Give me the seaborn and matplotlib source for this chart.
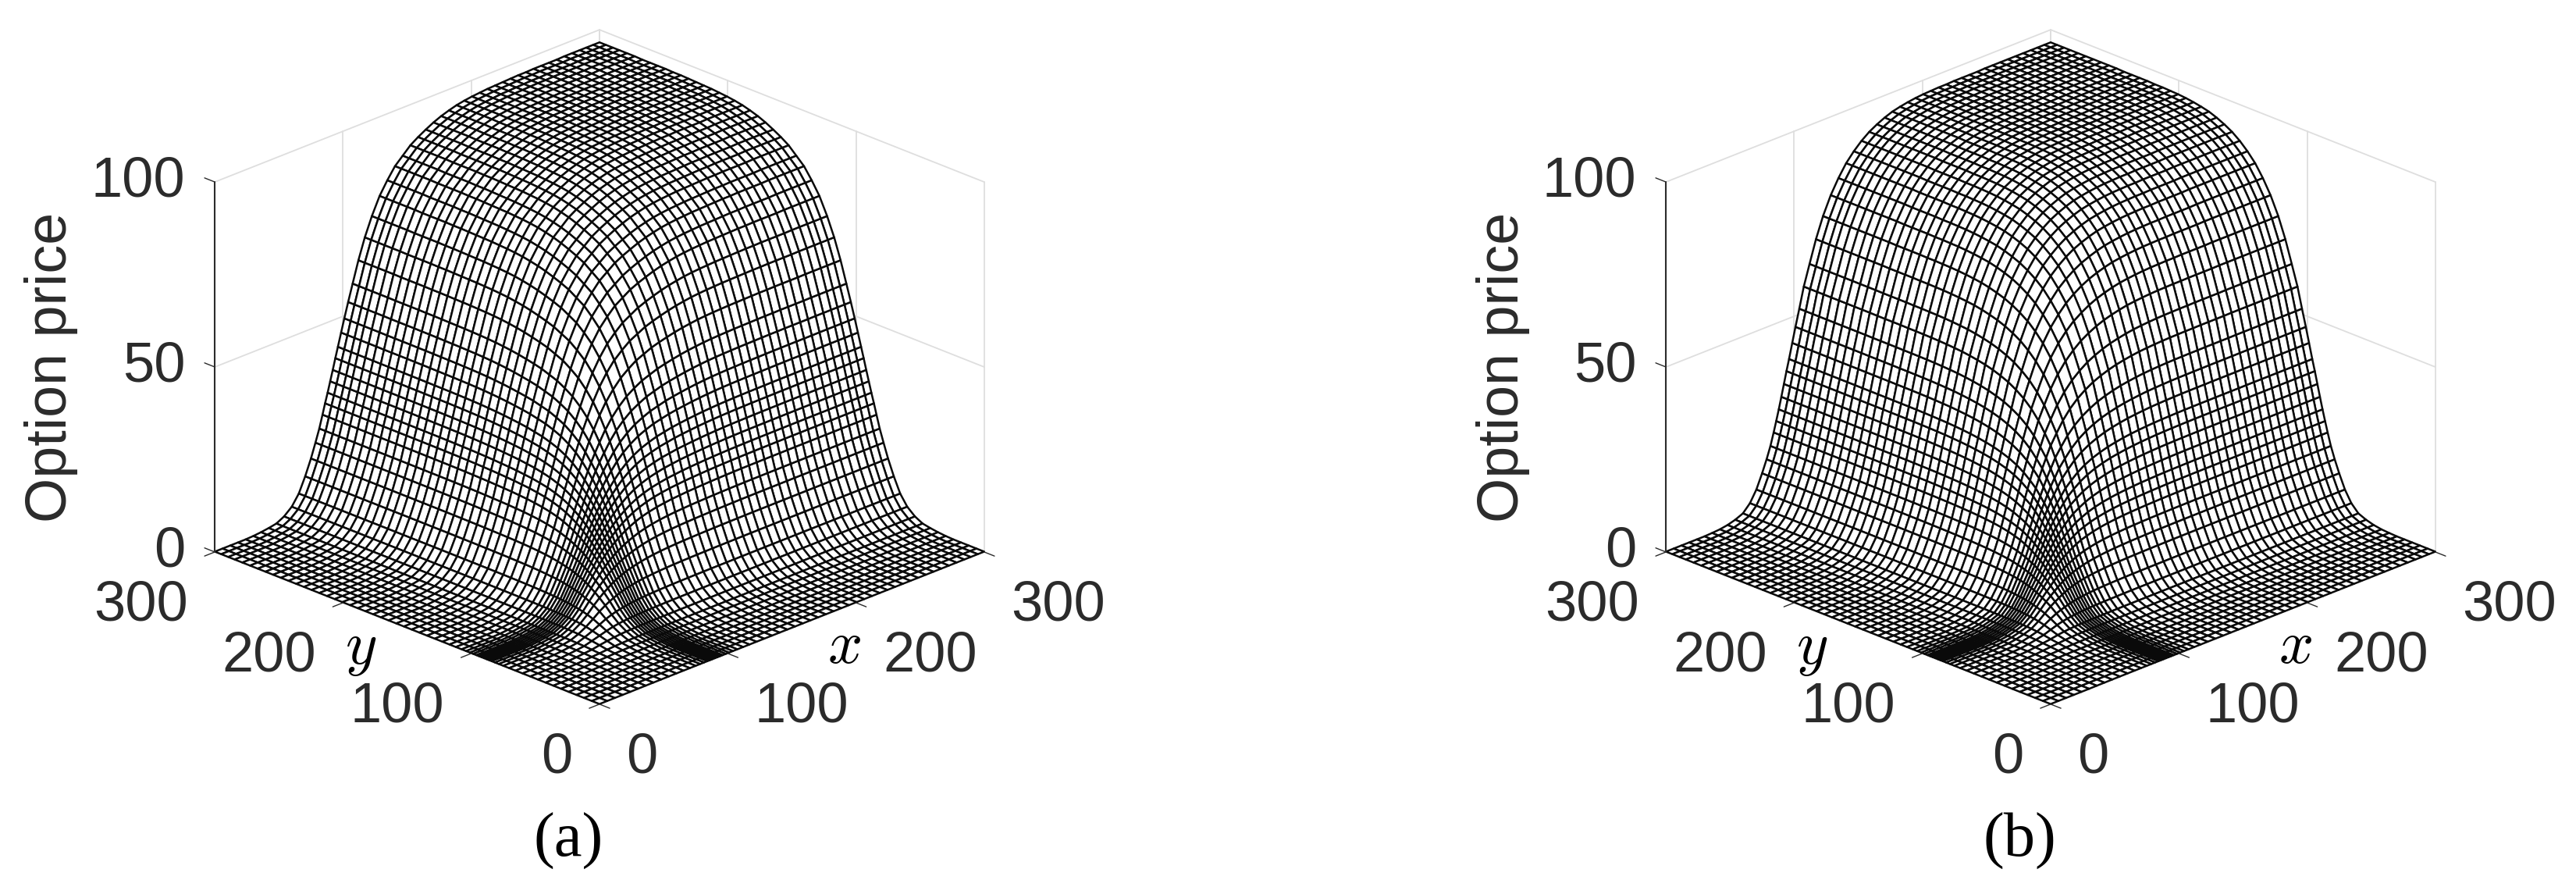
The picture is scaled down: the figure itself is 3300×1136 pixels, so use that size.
import numpy as np
import seaborn as sns
import matplotlib.pyplot as plt
from mpl_toolkits.mplot3d import proj3d

sns.set_theme(style='white')
plt.rcParams['font.family'] = ['Liberation Sans', 'DejaVu Sans']
plt.rcParams['mathtext.fontset'] = 'cm'

W, H = 3300, 1136
dark = '#2b2b2b'
light = '#dedede'

grid = [0, 6, 12, 18, 24, 30, 36, 42, 48, 54, 60, 65.5, 70.5, 75, 78.5, 81.5, 84, 86, 88, 90,
        92, 94, 96, 98.5, 101, 104, 107.5, 112, 117, 122.5, 128.5, 134.5, 140.5, 146.5, 152.5,
        158.5, 164.5, 170.5, 176.5, 182.5, 188.5, 194.5, 200.5, 206.5, 212.5, 218.5, 224.5,
        230.5, 236.5, 242.5, 248.5, 254.5, 260.5, 266.5, 272.5, 278.5, 284.5, 289.5, 295, 300]

# price along the far edge of each surface at those nodes
edge_a = [0, 0, 0, 0.05, 0.1, 0.2, 0.4, 0.7, 1.1, 2.2, 4, 6.8, 10.8, 15, 18.8, 22.2, 25.6, 28.4, 31, 33.8,
          36.6, 39.5, 42.3, 45.8, 49.3, 53.3, 57.8, 63.5, 69, 74, 78.6, 82, 85, 87, 89,
          90.4, 91.6, 92.7, 93.6, 94.3, 94.9, 95.3, 95.6, 95.8, 96, 96.1, 96.2,
          96.3, 96.4, 96.4, 96.5, 96.5, 96.5, 96.5, 96.6, 96.6, 96.6, 96.6, 96.6, 96.6]
edge_b = [0, 0, 0, 0.03, 0.06, 0.1, 0.2, 0.35, 0.7, 1.3, 2.2, 4.2, 7.2, 11, 14.3, 17.5, 20.8, 23.6, 26.5, 29.6,
          32.8, 36, 39, 43, 47, 51.5, 57, 62.5, 68.5, 74, 78.8, 82.6, 85.8, 88.2, 90.2,
          91.8, 93, 94, 94.8, 95.3, 95.7, 96, 96.2, 96.3, 96.4, 96.4, 96.5,
          96.5, 96.5, 96.5, 96.6, 96.6, 96.6, 96.6, 96.6, 96.6, 96.6, 96.6, 96.6, 96.6]
top_price = 96.6
# how far the ridge along x = y stands above the plain product of the edges
ridge_a = 1.0
ridge_b = 1.0

xy_ticks = [0, 100, 200, 300]
z_ticks = [0, 50, 100]
captions = ['(a)', '(b)']
panel_shift = 1859


def surface_table(edge, ridge):
    u = np.clip(np.array(edge) / top_price, 1e-3, 1)
    U, V = np.meshgrid(u, u)
    Z = (U ** -ridge + V ** -ridge - 1) ** (-1 / ridge)
    return top_price * Z


def label3d(ax, x, y, z, s, ha):
    # 3d anchor projected once, so the label is a plain 2d text
    px, py, _ = proj3d.proj_transform(x, y, z, ax.get_proj())
    ax.text2D(px, py, s, transform=ax.transData, ha=ha, va='center', fontsize=52, color=dark)


def draw_panel(left, edge, ridge, caption):
    ax = fig.add_axes([left / W, 111.4 / H, 1080 / W, 1080 / H], projection='3d')
    ax.set_proj_type('ortho')
    ax.view_init(elev=23.3, azim=-135)
    ax.set_box_aspect((697, 697, 516))
    ax.set_xlim(0, 300, view_margin=0)
    ax.set_ylim(0, 300, view_margin=0)
    ax.set_zlim(0, 100, view_margin=0)
    ax.set_axis_off()
    ax.patch.set_facecolor('none')
    ax.computed_zorder = False

    # walls behind the surface
    lw = 1.3
    for z in [50, 100]:
        ax.plot([0, 300, 300], [300, 300, 0], [z, z, z], color=light, lw=lw, zorder=1)
    for t in xy_ticks[1:]:
        ax.plot([t, t], [300, 300], [0, 100], color=light, lw=lw, zorder=1)
        ax.plot([300, 300], [t, t], [0, 100], color=light, lw=lw, zorder=1)
    ax.plot([300, 300], [0, 0], [0, 100], color=light, lw=lw, zorder=1)

    # surface
    X, Y = np.meshgrid(grid, grid)
    Z = surface_table(edge, ridge)
    ax.plot_surface(X, Y, Z, rstride=1, cstride=1, color='white', edgecolor='#0a0a0a',
                    linewidth=1.8, shade=False, antialiased=True, zorder=2)

    # axes and ticks
    ax.plot([0, 0], [300, 300], [0, 100], color=dark, lw=1.5, zorder=3)
    for t in xy_ticks:
        ax.plot([t, t], [0, -8], [0, 0], color=dark, lw=1.0, zorder=3)
        ax.plot([0, -8], [t, t], [0, 0], color=dark, lw=1.0, zorder=3)
        label3d(ax, t, -21, -11.7, str(t), 'left')
        label3d(ax, -21, t, -11.7, str(t), 'right')
    for z in z_ticks:
        ax.plot([0, 0], [300, 308], [z, z], color=dark, lw=1.0, zorder=3)
        label3d(ax, 0, 323, z - 3.2, str(z), 'right')

    cx = left + 554.6
    fig.text((cx - 702) / W, 1 - 470 / H, 'Option price', rotation=90, ha='center', va='center',
             fontsize=53, color=dark)
    fig.text((cx + 313) / W, 1 - 829 / H, '$x$', ha='center', va='center', fontsize=56, color='black')
    fig.text((cx - 306) / W, 1 - 831 / H, '$y$', ha='center', va='center', fontsize=56, color='black')
    fig.text((cx - 40) / W, 1 - 1077 / H, caption, ha='center', va='center', fontsize=58,
             family='Liberation Serif', color='black')
    return ax


fig = plt.figure(figsize=(W / 100, H / 100), dpi=100, facecolor='white')
draw_panel(213.4, edge_a, ridge_a, captions[0])
draw_panel(213.4 + panel_shift, edge_b, ridge_b, captions[1])
fig.savefig('out.png', dpi=100)
